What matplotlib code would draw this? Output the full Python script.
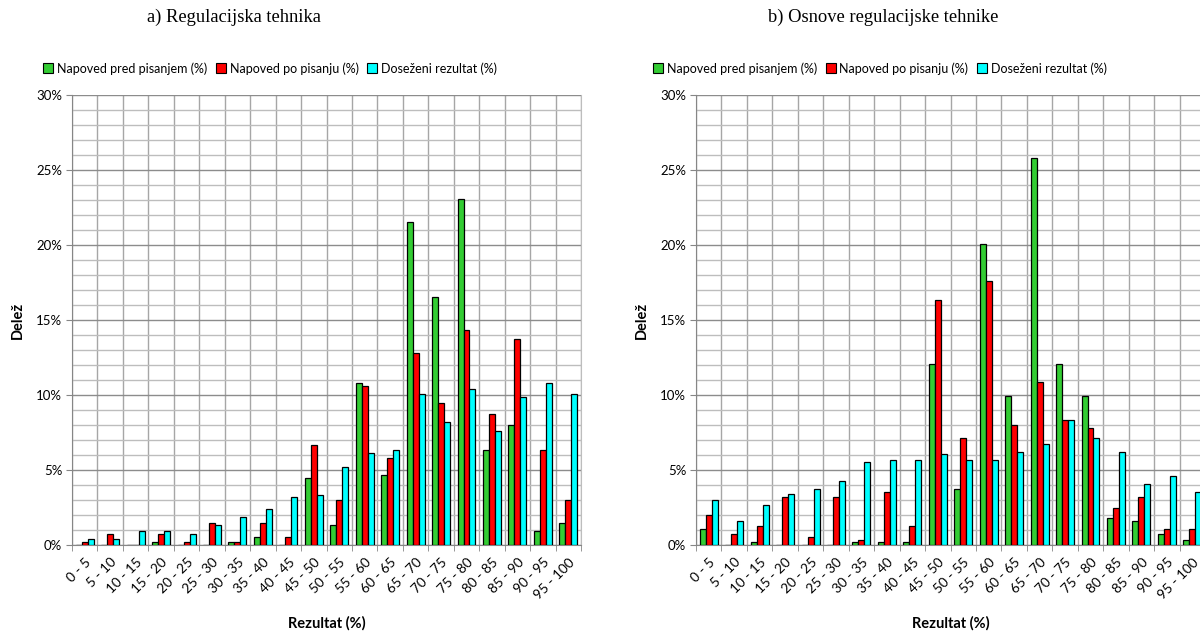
import numpy as np
import matplotlib.pyplot as plt
from matplotlib.ticker import MultipleLocator, FuncFormatter
from matplotlib.patches import Patch

plt.rcParams['font.family'] = ['Lato', 'DejaVu Sans']

categories = ['0 - 5', '5 - 10', '10 - 15', '15 - 20', '20 - 25', '25 - 30', '30 - 35',
              '35 - 40', '40 - 45', '45 - 50', '50 - 55', '55 - 60', '60 - 65', '65 - 70',
              '70 - 75', '75 - 80', '80 - 85', '85 - 90', '90 - 95', '95 - 100']
series_names = ['Napoved pred pisanjem (%)', 'Napoved po pisanju (%)', 'Doseženi rezultat (%)']

# a) Regulacijska tehnika (shares in %)
rt_pred = [0.0, 0.0, 0.0, 0.18, 0.0, 0.0, 0.18, 0.56, 0.0, 4.44,
           1.31, 10.78, 4.64, 21.56, 16.53, 23.04, 6.33, 8.0, 0.93, 1.49]
rt_po = [0.18, 0.75, 0.0, 0.75, 0.18, 1.49, 0.18, 1.49, 0.56, 6.67,
         2.98, 10.6, 5.78, 12.82, 9.49, 14.31, 8.73, 13.76, 6.33, 2.98]
rt_rez = [0.38, 0.38, 0.93, 0.93, 0.75, 1.31, 1.87, 2.42, 3.18, 3.36,
          5.2, 6.13, 6.33, 10.04, 8.18, 10.4, 7.62, 9.84, 10.78, 10.04]

# b) Osnove regulacijske tehnike (shares in %)
ort_pred = [1.04, 0.0, 0.18, 0.0, 0.0, 0.0, 0.18, 0.18, 0.18, 12.09,
            3.73, 20.09, 9.96, 25.78, 12.09, 9.96, 1.78, 1.6, 0.71, 0.36]
ort_po = [1.98, 0.71, 1.24, 3.2, 0.53, 3.2, 0.36, 3.56, 1.24, 16.36,
          7.11, 17.6, 8.0, 10.84, 8.36, 7.82, 2.49, 3.2, 1.07, 1.07]
ort_rez = [3.02, 1.6, 2.67, 3.38, 3.73, 4.27, 5.51, 5.69, 5.69, 6.04,
           5.69, 5.69, 6.22, 6.76, 8.36, 7.11, 6.22, 4.09, 4.62, 3.56]

colors = ['#33CC33', '#FF0000', '#00FFFF']
w = 0.235

fig = plt.figure(figsize=(12, 6.32), dpi=100)
ax1 = fig.add_axes([0.06, 0.1377, 0.4242, 0.712])
ax2 = fig.add_axes([0.58, 0.1377, 0.4242, 0.712])


def draw(ax, data, title, title_x, legend_x):
    x = np.arange(len(categories))
    for k, (vals, c) in enumerate(zip(data, colors)):
        ax.bar(x + (k - 1) * w, vals, w, color=c, edgecolor='black', linewidth=0.9, zorder=3)
    ax.set_xlim(-0.5, len(categories) - 0.5)
    ax.set_ylim(0, 30)
    ax.yaxis.set_major_locator(MultipleLocator(5))
    ax.yaxis.set_minor_locator(MultipleLocator(1))
    ax.yaxis.set_major_formatter(FuncFormatter(lambda v, p: '%d%%' % v))
    ax.set_xticks(x)
    ax.set_xticklabels(categories, rotation=45, ha='right', va='top', rotation_mode='anchor', fontsize=9.8)
    ax.set_xticks(np.arange(len(categories) + 1) - 0.5, minor=True)
    ax.tick_params(axis='x', which='major', length=0, pad=8)
    ax.tick_params(axis='x', which='minor', length=4, color='#868686', direction='out')
    ax.tick_params(axis='y', which='major', length=4, color='#868686', labelsize=9.5, pad=3)
    ax.tick_params(axis='y', which='minor', length=0)
    ax.grid(axis='y', which='major', color='#8c8c8c', linewidth=1.0, zorder=0)
    ax.grid(axis='y', which='minor', color='#bdbdbd', linewidth=1.0, zorder=0)
    ax.grid(axis='x', which='minor', color='#a6a6a6', linewidth=1.0, zorder=0)
    for s in ['left', 'bottom']:
        ax.spines[s].set_color('#868686')
    ax.spines['top'].set_visible(False)
    ax.spines['right'].set_color('#bdbdbd')
    ax.set_ylabel('Delež', fontweight='bold', fontsize=10.5, labelpad=8)
    ax.set_xlabel('Rezultat (%)', fontweight='bold', fontsize=10.5, labelpad=11)
    fig.text(title_x, 0.972, title, ha='center', va='center', fontsize=13.3,
             family='Liberation Serif')
    handles = [Patch(facecolor=c, edgecolor='black', linewidth=0.8) for c in colors]
    fig.legend(handles, series_names, loc='center left', bbox_to_anchor=(legend_x, 0.892),
               ncol=3, frameon=False, fontsize=9.0, handlelength=0.8, handleheight=0.8,
               handletextpad=0.3, columnspacing=0.7, borderaxespad=0, borderpad=0)


draw(ax1, [rt_pred, rt_po, rt_rez], 'a) Regulacijska tehnika', 0.195, 0.036)
draw(ax2, [ort_pred, ort_po, ort_rez], 'b) Osnove regulacijske tehnike', 0.736, 0.544)

plt.savefig('out.png', dpi=100)
